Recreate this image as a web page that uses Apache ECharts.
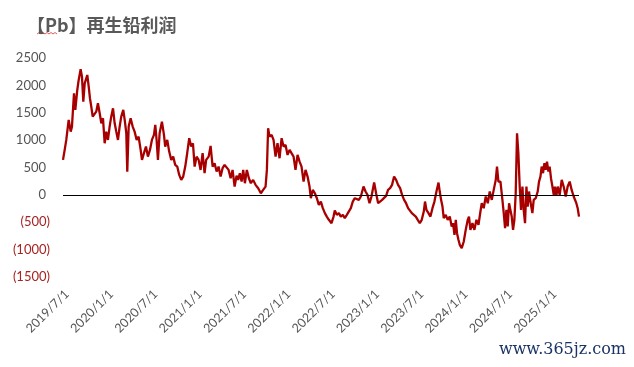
<!DOCTYPE html>
<html>
<head>
<meta charset="utf-8">
<script src="https://cdn.jsdelivr.net/npm/echarts@6/dist/echarts.min.js"></script>
<style>html,body{margin:0;padding:0;background:#fff;}#c{width:634px;height:367px;}</style>
</head>
<body>
<div id="c"></div>
<script>
// Title and tick labels
var titleText = '【Pb】再生铅利润';
var tickYears = [2019.5, 2020, 2020.5, 2021, 2021.5, 2022, 2022.5, 2023, 2023.5, 2024, 2024.5, 2025];
var tickLabels = ['2019/7/1','2020/1/1','2020/7/1','2021/1/1','2021/7/1','2022/1/1','2022/7/1','2023/1/1','2023/7/1','2024/1/1','2024/7/1','2025/1/1'];
var yTicks = [-1500, -1000, -500, 0, 500, 1000, 1500, 2000, 2500];

// Dates as decimal years
var years = [
2019.455,2019.474,2019.492,2019.519,2019.542,2019.556,2019.579,2019.594,2019.616,2019.632,
2019.654,2019.669,2019.684,2019.700,2019.729,2019.745,2019.759,2019.774,2019.790,2019.812,
2019.830,2019.849,2019.869,2019.887,2019.906,2019.925,2019.943,2019.962,2019.981,2019.999,
2020.019,2020.038,2020.056,2020.075,2020.094,2020.112,2020.135,2020.151,2020.169,2020.180,
2020.196,2020.218,2020.241,2020.263,2020.286,2020.308,2020.331,2020.346,2020.368,2020.391,
2020.413,2020.436,2020.458,2020.481,2020.496,2020.511,2020.526,2020.545,2020.571,2020.594,
2020.608,2020.631,2020.653,2020.676,2020.698,2020.721,2020.744,2020.766,2020.789,2020.811,
2020.834,2020.856,2020.879,2020.901,2020.921,2020.940,2020.962,2020.985,2021.007,2021.030,
2021.052,2021.070,2021.098,2021.120,2021.143,2021.165,2021.188,2021.210,2021.233,2021.255,
2021.278,2021.300,2021.323,2021.346,2021.368,2021.391,2021.413,
2021.431,2021.450,2021.470,2021.488,2021.507,2021.529,2021.552,2021.574,2021.600,2021.627,
2021.657,2021.687,2021.713,2021.740,2021.755,2021.769,2021.785,2021.808,2021.830,2021.853,
2021.875,2021.898,2021.921,2021.943,2021.966,2021.988,2022.011,2022.033,2022.056,2022.078,
2022.101,2022.124,2022.146,2022.169,2022.191,2022.214,2022.236,2022.251,2022.273,2022.296,
2022.319,2022.341,2022.364,2022.386,2022.409,2022.431,2022.454,2022.484,2022.507,2022.521,
2022.544,2022.567,2022.589,2022.612,2022.634,2022.657,2022.679,2022.702,2022.724,2022.747,
2022.769,2022.792,2022.815,2022.845,2022.868,2022.890,2022.913,2022.935,2022.965,2022.987,
2023.010,2023.032,2023.055,2023.077,2023.100,2023.122,2023.145,2023.167,2023.190,2023.213,
2023.235,2023.258,2023.280,2023.303,2023.325,2023.348,
2023.367,2023.390,2023.412,2023.435,2023.457,2023.480,2023.502,2023.525,2023.539,2023.555,
2023.578,2023.600,2023.623,2023.645,2023.668,2023.691,2023.705,2023.720,2023.736,2023.750,
2023.773,2023.795,2023.818,2023.840,2023.855,2023.871,2023.886,2023.900,2023.916,2023.931,
2023.953,2023.976,2023.998,2024.021,2024.035,2024.051,2024.074,2024.096,2024.119,2024.142,
2024.164,2024.179,2024.201,2024.224,2024.247,2024.269,2024.292,2024.314,2024.337,2024.351,
2024.367,2024.390,2024.412,2024.427,2024.442,2024.457,2024.472,2024.487,2024.502,2024.517,
2024.532,2024.547,2024.562,2024.577,2024.592,2024.607,2024.622,2024.638,2024.652,2024.667,
2024.683,2024.697,2024.712,2024.728,2024.750,2024.765,2024.788,2024.810,2024.825,2024.841,
2024.855,2024.870,2024.886,2024.900,2024.915,2024.931,2024.945,2024.960,2024.976,2024.991,
2025.005,2025.021,2025.036,2025.058,2025.081,2025.103,2025.126,2025.148,2025.171,2025.193,
2025.216,2025.231,2025.246,2025.261,2025.276
];

// Profit values
var profit = [
639,821,1004,1369,1155,1247,1856,1551,1916,2099,
2294,2160,1703,2038,2190,1977,1765,1612,1429,1400,
1520,1673,1491,1308,1400,943,1155,1004,1247,1429,
1582,1308,1155,1004,1247,1429,1551,1369,1126,425,
1247,1400,1247,1155,1004,1064,821,639,761,882,
699,821,1004,1095,1278,1004,639,1126,1338,1095,
882,1004,791,639,699,548,517,365,274,334,
517,761,1035,882,943,517,699,639,456,761,
396,639,699,894,517,578,426,517,334,487,
548,578,456,304,456,152,350,
274,396,243,456,213,456,304,213,274,183,
122,30,91,152,456,1217,1064,1095,1004,699,
943,669,1035,882,912,730,821,791,699,456,
730,608,517,243,456,334,152,-61,91,30,
-61,-183,-122,-243,-334,-396,-456,-517,-396,-286,
-365,-334,-396,-365,-426,-365,-334,-243,-122,-61,
-42,-91,-30,152,61,0,-152,-30,225,30,
-152,-122,-91,-122,-18,91,122,183,334,274,
183,122,0,-91,-152,-243,
-213,-334,-365,-396,-456,-517,-456,-304,-122,-274,
-334,-396,-243,-122,61,225,61,-91,-213,-426,
-365,-456,-396,-578,-517,-730,-456,-699,-821,-912,
-973,-852,-639,-456,-396,-639,-517,-639,-456,-548,
-304,-152,-243,-30,-152,61,-91,91,274,517,
243,243,-91,-334,-608,-274,-578,-152,-274,-396,
-639,-456,30,1126,761,152,-274,152,-274,-517,
152,-213,61,-122,-334,-91,-61,61,243,334,
517,396,578,456,608,426,517,304,152,0,
152,-18,152,0,274,152,-30,152,243,91,
-30,0,-152,-243,-396
];

var seriesData = years.map(function (y, i) { return [y, profit[i]]; });

var chart = echarts.init(document.getElementById('c'), null, { renderer: 'canvas' });
chart.setOption({
  animation: false,
  backgroundColor: '#ffffff',
  title: {
    text: titleText,
    left: 22, top: 11,
    textStyle: { fontFamily: 'Noto Sans CJK SC', fontSize: 18, fontWeight: 'bold', color: '#595959' }
  },
  grid: { left: 63, right: 55, top: 58, bottom: 90, containLabel: false },
  xAxis: {
    type: 'value',
    min: years[0],
    max: years[years.length - 1],
    axisLine: { show: false },
    axisTick: { show: false },
    splitLine: { show: false },
    axisLabel: {
      customValues: tickYears,
      rotate: 45,
      margin: 15,
      fontFamily: 'Lato',
      fontSize: 12.5,
      color: '#555555',
      formatter: function (v) {
        var idx = tickYears.indexOf(Math.round(v * 2) / 2);
        return idx >= 0 ? tickLabels[idx] : '';
      }
    }
  },
  yAxis: {
    type: 'value',
    min: yTicks[0],
    max: yTicks[yTicks.length - 1],
    interval: 500,
    axisLine: { show: false },
    axisTick: { show: false },
    splitLine: { show: false },
    axisLabel: {
      margin: 13,
      fontFamily: 'Lato',
      fontSize: 13,
      formatter: function (v) {
        if (v < 0) return '{n|(' + Math.abs(v) + ')}';
        return '{p|' + v + '}';
      },
      rich: {
        n: { color: '#A82323', fontFamily: 'Lato', fontSize: 13 },
        p: { color: '#555555', fontFamily: 'Lato', fontSize: 13, padding: [0, 4, 0, 0] }
      }
    }
  },
  series: [{
    type: 'line',
    data: seriesData,
    showSymbol: false,
    lineStyle: { color: '#A80000', width: 2.3 },
    itemStyle: { color: '#A80000' },
    markLine: {
      silent: true,
      symbol: 'none',
      label: { show: false },
      lineStyle: { color: '#000000', width: 1, type: 'solid' },
      data: [{ yAxis: 0 }]
    },
    z: 3
  }],
  graphic: [{
    type: 'text',
    right: 8, top: 342,
    style: { text: 'www.365jz.com', fill: '#1A3366', font: '16px "DejaVu Serif"' }
  }, {
    type: 'polyline',
    shape: { points: [[37,34],[39,32.5],[41,34],[43,32.5],[45,34],[47,32.5],[49,34],[51,32.5],[53,34],[55,32.5],[57,34]] },
    style: { stroke: '#E03030', lineWidth: 0.8, fill: null }
  }]
});
</script>
</body>
</html>
